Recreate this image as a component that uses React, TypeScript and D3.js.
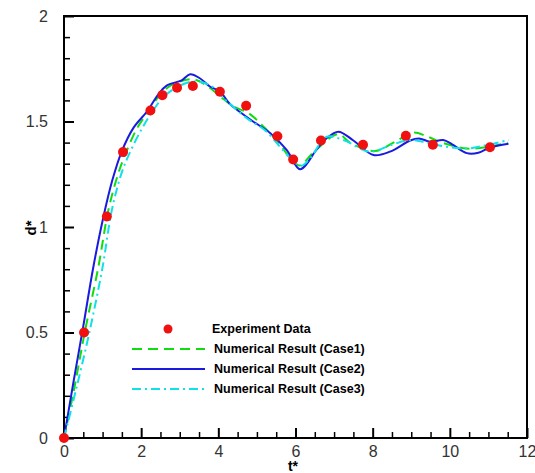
import React, { useRef, useEffect } from "react";
import * as d3 from "d3";

// experiment points
const expT = [0, 0.52, 1.11, 1.53, 2.24, 2.55, 2.93, 3.34, 4.04, 4.72, 5.53, 5.94, 6.66, 7.75, 8.86, 9.56, 11.04];
const expD = [0, 0.5, 1.05, 1.355, 1.552, 1.625, 1.66, 1.668, 1.641, 1.575, 1.43, 1.32, 1.41, 1.39, 1.432, 1.39, 1.378];

// Case1 (green dashed)
const case1T = [0, 0.25, 0.54, 0.89, 1.15, 1.4, 1.6, 1.9, 2.2, 2.55, 2.92, 3.35, 3.7, 4.04, 4.4, 4.78, 5.2, 5.6, 5.85, 6.1, 6.5, 7.11, 7.41, 8.06, 8.54, 9.05, 9.4, 9.8, 10.44, 11.0, 11.5];
const case1D = [0, 0.22, 0.503, 0.81, 1.08, 1.25, 1.35, 1.47, 1.55, 1.64, 1.684, 1.7, 1.67, 1.62, 1.57, 1.54, 1.47, 1.39, 1.33, 1.292, 1.36, 1.44, 1.4, 1.36, 1.4, 1.447, 1.43, 1.4, 1.372, 1.38, 1.4];

// Case2 (blue solid)
const case2T = [0, 0.25, 0.5, 0.75, 1.0, 1.25, 1.5, 1.8, 2.14, 2.45, 2.66, 3.05, 3.27, 3.52, 3.78, 4.04, 4.3, 4.56, 4.9, 5.34, 5.77, 6.12, 6.55, 6.8, 7.11, 7.5, 8.02, 8.45, 8.97, 9.2, 9.49, 9.83, 10.05, 10.44, 10.74, 11.04, 11.52];
const case2D = [0, 0.27, 0.53, 0.8, 1.03, 1.22, 1.36, 1.47, 1.545, 1.63, 1.67, 1.695, 1.724, 1.705, 1.666, 1.642, 1.583, 1.545, 1.5, 1.446, 1.365, 1.274, 1.368, 1.42, 1.452, 1.41, 1.341, 1.357, 1.41, 1.42, 1.404, 1.412, 1.393, 1.35, 1.352, 1.377, 1.395];

// Case3 (cyan dash-dot)
const case3T = [0, 0.3, 0.66, 1.0, 1.24, 1.5, 1.7, 2.0, 2.3, 2.6, 3.0, 3.4, 3.8, 4.2, 4.78, 5.2, 5.6, 5.9, 6.15, 6.4, 6.81, 7.24, 7.93, 8.5, 8.97, 9.4, 9.92, 10.44, 11.0, 11.52];
const case3D = [0, 0.22, 0.503, 0.81, 1.08, 1.26, 1.35, 1.46, 1.55, 1.62, 1.67, 1.69, 1.67, 1.6, 1.51, 1.46, 1.38, 1.32, 1.29, 1.33, 1.428, 1.412, 1.357, 1.39, 1.412, 1.4, 1.38, 1.372, 1.39, 1.412];

const xMajor = [0, 2, 4, 6, 8, 10, 12];
const yMajor = [0, 0.5, 1, 1.5, 2];

const legendLabels = ["Experiment Data", "Numerical Result (Case1)", "Numerical Result (Case2)", "Numerical Result (Case3)"];

const App = () => {
    const svgRef = useRef(null);

    useEffect(() => {
        const svg = d3.select(svgRef.current);
        svg.selectAll("*").remove();

        const left = 64, right = 527, top = 16, bottom = 438;
        const x = d3.scaleLinear().domain([0, 12]).range([left, right]);
        const y = d3.scaleLinear().domain([0, 2]).range([bottom, top]);

        const xMinor = d3.range(0, 12.01, 0.5).filter((v) => v % 2 !== 0);
        const yMinor = d3.range(0, 2.001, 0.1).map((v) => +v.toFixed(1)).filter((v) => Math.abs(v * 2 - Math.round(v * 2)) > 0.01);

        // ticks (inward)
        const gx = svg.append("g").attr("transform", `translate(0,${bottom})`);
        gx.call(d3.axisBottom(x).tickValues(xMinor).tickSize(-6).tickFormat(() => ""));
        gx.selectAll("line").attr("stroke-width", 1.5);
        const gx2 = svg.append("g").attr("transform", `translate(0,${bottom})`);
        gx2.call(d3.axisBottom(x).tickValues(xMajor).tickSize(-10).tickPadding(14).tickFormat(d3.format("d")));
        gx2.selectAll("line").attr("stroke-width", 2);

        const gy = svg.append("g").attr("transform", `translate(${left},0)`);
        gy.call(d3.axisLeft(y).tickValues(yMinor).tickSize(-6).tickFormat(() => ""));
        gy.selectAll("line").attr("stroke-width", 1.5);
        const gy2 = svg.append("g").attr("transform", `translate(${left},0)`);
        gy2.call(d3.axisLeft(y).tickValues(yMajor).tickSize(-10).tickPadding(16).tickFormat((d) => String(d)));
        gy2.selectAll("line").attr("stroke-width", 2);

        svg.selectAll(".domain").remove();
        svg.selectAll(".tick text")
            .attr("font-family", "Liberation Sans, Arial, sans-serif")
            .attr("font-size", 16)
            .attr("fill", "#333");
        gx2.selectAll(".tick text").attr("dy", "0.3em");

        // frame
        svg.append("rect")
            .attr("x", left)
            .attr("y", top)
            .attr("width", right - left)
            .attr("height", bottom - top)
            .attr("fill", "none")
            .attr("stroke", "#000")
            .attr("stroke-width", 2);

        const line = d3
            .line()
            .x((d) => x(d[0]))
            .y((d) => y(d[1]))
            .curve(d3.curveCatmullRom);

        const series = [
            { t: case1T, d: case1D, color: "#10dc10", dash: "10,6" },
            { t: case2T, d: case2D, color: "#1a1ae0", dash: null },
            { t: case3T, d: case3D, color: "#10e0e8", dash: "9,4,2,4" },
        ];

        series.forEach((s) => {
            svg.append("path")
                .datum(s.t.map((t, i) => [t, s.d[i]]))
                .attr("d", line)
                .attr("fill", "none")
                .attr("stroke", s.color)
                .attr("stroke-width", 2)
                .attr("stroke-dasharray", s.dash);
        });

        svg.append("g")
            .selectAll("circle")
            .data(expT.map((t, i) => [t, expD[i]]))
            .enter()
            .append("circle")
            .attr("cx", (d) => x(d[0]))
            .attr("cy", (d) => y(d[1]))
            .attr("r", 5)
            .attr("fill", "#f01010");

        // axis titles
        svg.append("text")
            .attr("transform", `translate(36,228) rotate(-90)`)
            .attr("text-anchor", "middle")
            .attr("font-family", "Liberation Sans, Arial, sans-serif")
            .attr("font-weight", "bold")
            .attr("font-size", 15)
            .text("d*");
        svg.append("text")
            .attr("x", 293)
            .attr("y", 471)
            .attr("text-anchor", "middle")
            .attr("font-family", "Liberation Sans, Arial, sans-serif")
            .attr("font-weight", "bold")
            .attr("font-size", 14)
            .text("t*");

        // legend
        const lg = svg.append("g");
        const rowsY = [329, 349, 369, 389];
        lg.append("circle").attr("cx", 168).attr("cy", rowsY[0]).attr("r", 4.5).attr("fill", "#f01010");
        series.forEach((s, i) => {
            lg.append("line")
                .attr("x1", 132)
                .attr("x2", 205)
                .attr("y1", rowsY[i + 1])
                .attr("y2", rowsY[i + 1])
                .attr("stroke", s.color)
                .attr("stroke-width", 2)
                .attr("stroke-dasharray", s.dash);
        });
        legendLabels.forEach((l, i) => {
            lg.append("text")
                .attr("x", i === 0 ? 212 : 214)
                .attr("y", rowsY[i])
                .attr("dy", "0.35em")
                .attr("font-family", "Liberation Sans, Arial, sans-serif")
                .attr("font-weight", "bold")
                .attr("font-size", 12.5)
                .text(l);
        });
    }, []);

    return (
        <svg ref={svgRef} width={535} height={473} style={{ position: "absolute", left: 0, top: 0, background: "#fff" }} />
    );
};

export default App;
